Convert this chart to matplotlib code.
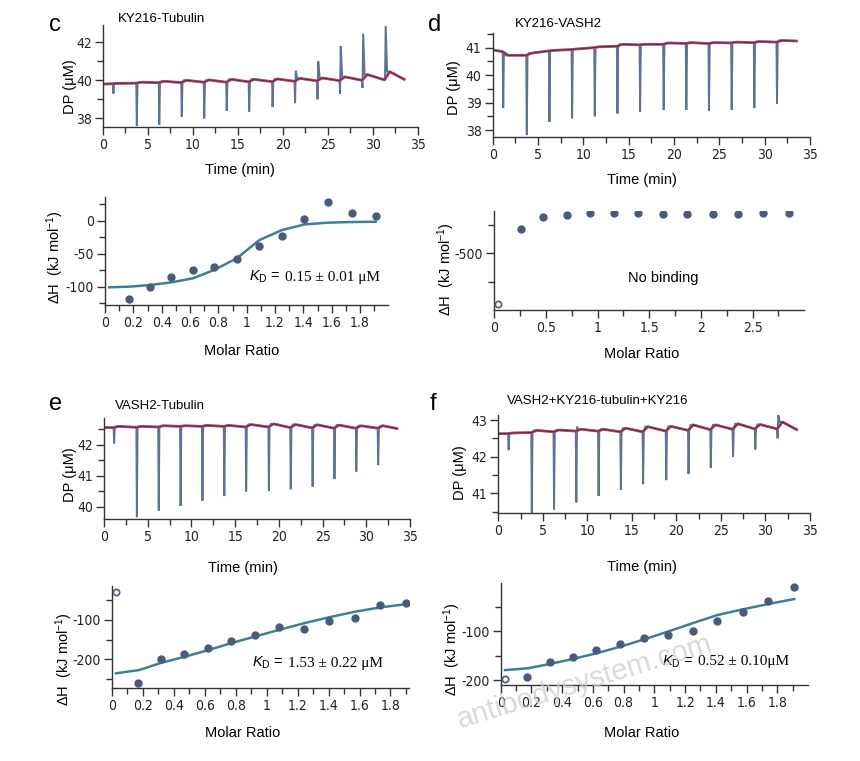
import os
import matplotlib
matplotlib.use('Agg')
import matplotlib.pyplot as plt
import numpy as np
from matplotlib import font_manager
from matplotlib.font_manager import FontProperties
from matplotlib.ticker import FixedLocator, FuncFormatter

W, H = 860, 761

# injection times shared by all four runs (min)
inj_t = [1.1, 3.7, 6.2, 8.7, 11.2, 13.7, 16.2, 18.8, 21.3, 23.8, 26.3, 28.8, 31.3]

# --- c: KY216-Tubulin ---
c_start, c_end = 39.80, 40.05
c_base = [39.82, 39.85, 39.87, 39.88, 39.90, 39.90, 39.92, 39.93, 39.95, 39.97, 39.98, 40.00, 40.02]
c_bump = [39.84, 39.90, 39.95, 40.00, 40.02, 40.05, 40.05, 40.07, 40.10, 40.12, 40.18, 40.30, 40.45]
c_down = [39.30, 37.60, 37.67, 38.10, 38.00, 38.40, 38.36, 38.60, 38.80, 39.00, 39.30, 39.60, 40.00]
c_up = [39.82, 39.85, 39.87, 39.88, 39.90, 39.90, 39.92, 39.93, 40.50, 41.00, 41.80, 42.45, 42.85]
c_ratio = [0.172, 0.318, 0.466, 0.619, 0.772, 0.929, 1.087, 1.247, 1.407, 1.572, 1.741, 1.911]
c_dh = [-118.7, -100.0, -85.9, -74.7, -70.7, -57.6, -38.4, -22.7, 2.0, 28.8, 12.1, 7.1]
c_fit_x = [0.03, 0.17, 0.32, 0.47, 0.62, 0.77, 0.93, 1.09, 1.25, 1.41, 1.57, 1.74, 1.91]
c_fit_y = [-101.0, -100.0, -97.5, -93.4, -87.4, -74.7, -57.0, -29.3, -14.1, -5.6, -3.0, -2.0, -1.5]

# --- d: KY216-VASH2 ---
d_start, d_end = 40.92, 41.24
d_base = [40.85, 40.72, 40.88, 40.93, 41.00, 41.05, 41.10, 41.12, 41.15, 41.15, 41.17, 41.18, 41.20]
d_bump = [40.72, 40.80, 40.90, 40.95, 41.03, 41.12, 41.12, 41.17, 41.18, 41.18, 41.20, 41.22, 41.26]
d_down = [38.80, 37.82, 38.30, 38.43, 38.50, 38.60, 38.67, 38.73, 38.73, 38.70, 38.73, 38.80, 38.95]
d_ratio = [0.039, 0.255, 0.474, 0.700, 0.926, 1.158, 1.394, 1.629, 1.868, 2.113, 2.361, 2.603, 2.855]
d_dh = [-947, -285, -182, -165, -147, -147, -147, -153, -153, -153, -153, -147, -141]

# --- e: VASH2-Tubulin ---
e_start, e_end = 42.56, 42.53
e_base = [42.56, 42.57, 42.58, 42.60, 42.60, 42.60, 42.58, 42.58, 42.56, 42.55, 42.54, 42.54, 42.54]
e_bump = [42.60, 42.60, 42.62, 42.62, 42.63, 42.63, 42.66, 42.68, 42.66, 42.65, 42.64, 42.62, 42.62]
e_down = [42.05, 39.67, 39.88, 40.03, 40.20, 40.35, 40.50, 40.52, 40.57, 40.66, 40.90, 41.14, 41.35]
e_ratio = [0.026, 0.170, 0.317, 0.466, 0.619, 0.769, 0.925, 1.082, 1.244, 1.405, 1.571, 1.733, 1.900]
e_dh = [-28.0, -259.0, -200.0, -187.0, -170.0, -152.5, -139.0, -118.6, -123.7, -101.7, -95.8, -61.9, -56.0]
e_fit_x = [0.026, 0.18, 0.317, 0.466, 0.619, 0.769, 0.925, 1.082, 1.244, 1.405, 1.571, 1.733, 1.90]
e_fit_y = [-235.6, -227.0, -209.0, -194.0, -177.0, -159.0, -142.0, -125.0, -108.0, -93.0, -79.0, -68.0, -60.0]

# --- f: VASH2+KY216-tubulin+KY216 ---
f_start, f_end = 42.63, 42.74
f_base = [42.63, 42.66, 42.68, 42.70, 42.70, 42.68, 42.68, 42.70, 42.72, 42.74, 42.75, 42.76, 42.76]
f_bump = [42.65, 42.72, 42.73, 42.75, 42.75, 42.78, 42.82, 42.83, 42.87, 42.87, 42.90, 42.88, 42.95]
f_down = [42.18, 40.47, 40.56, 40.75, 40.93, 41.10, 41.25, 41.36, 41.53, 41.70, 42.00, 42.20, 42.50]
f_up = [42.63, 42.66, 42.68, 42.82, 42.70, 42.68, 42.68, 42.70, 42.72, 42.74, 42.75, 42.76, 43.14]
f_ratio = [0.028, 0.174, 0.321, 0.469, 0.620, 0.777, 0.933, 1.089, 1.249, 1.410, 1.575, 1.740, 1.911]
f_dh = [-198.0, -193.0, -164.0, -152.0, -139.0, -126.5, -115.0, -107.5, -99.3, -79.0, -62.0, -38.0, -11.0]
f_fit_x = [0.028, 0.174, 0.321, 0.469, 0.62, 0.777, 0.933, 1.089, 1.249, 1.41, 1.575, 1.74, 1.911]
f_fit_y = [-179.6, -176.0, -167.0, -157.0, -145.6, -132.0, -117.0, -101.0, -84.0, -67.3, -55.8, -44.9, -34.7]

TRACE = '#5d7391'
BASE = '#b04a74'
FIT = '#3c7f97'
DOT = '#4b5a79'
AX = '#333333'

plt.rcParams['font.family'] = ['Liberation Sans', 'DejaVu Sans']
plt.rcParams['mathtext.fontset'] = 'custom'
plt.rcParams['mathtext.rm'] = 'Liberation Sans'
plt.rcParams['mathtext.it'] = 'Liberation Sans:italic'


# the tick numbers in the reference are set in a narrow face; use one if present
def narrow_font():
    found = []
    for f in font_manager.fontManager.ttflist:
        base = os.path.basename(f.fname)
        tag = f.name + ' ' + base
        if ('Narrow' in tag or 'Condensed' in tag or f.stretch in ('condensed', 'semi-condensed')) \
                and 'Bold' not in base and 'Italic' not in base and 'Oblique' not in base \
                and f.style == 'normal':
            found.append(f)
    found.sort(key=lambda f: (0 if 'Liberation' in f.name else 1 if 'DejaVu' in f.name else 2))
    if found:
        return FontProperties(fname=found[0].fname, size=10)
    return FontProperties(family='Liberation Sans', size=9)


TICK_FP = narrow_font()

fig = plt.figure(figsize=(W / 100, H / 100), dpi=100)


def px_axes(left, right, top, bottom):
    return fig.add_axes([left / W, 1 - bottom / H, (right - left) / W, (bottom - top) / H])


def ftext(x, y, s, **kw):
    return fig.text(x / W, 1 - y / H, s, **kw)


def style(ax, xmaj, xmin, ymaj, ymin):
    for side in ('top', 'right'):
        ax.spines[side].set_visible(False)
    for side in ('left', 'bottom'):
        ax.spines[side].set_color(AX)
        ax.spines[side].set_linewidth(1.0)
    ax.xaxis.set_major_locator(FixedLocator(xmaj))
    ax.xaxis.set_minor_locator(FixedLocator(xmin))
    ax.yaxis.set_major_locator(FixedLocator(ymaj))
    ax.yaxis.set_minor_locator(FixedLocator(ymin))
    fmt = FuncFormatter(lambda v, p: '%g' % v)
    ax.xaxis.set_major_formatter(fmt)
    ax.yaxis.set_major_formatter(fmt)
    ax.tick_params(which='major', direction='out', length=6, width=1, color=AX, pad=2)
    ax.tick_params(which='minor', direction='out', length=4, width=1, color=AX)
    for lab in ax.get_xticklabels() + ax.get_yticklabels():
        lab.set_fontproperties(TICK_FP)
        lab.set_color('#222222')
    ax.patch.set_alpha(0)


def thermogram(ax, start, end, base, bump, down, up=None):
    if up is None:
        up = base
    tx, ty = [0.0], [start]
    bx, by = [0.0], [start]
    for t, b0, b1, lo, hi in zip(inj_t, base, bump, down, up):
        tx += [t, t + 0.06, t + 0.14, t + 0.3, t + 0.6]
        ty += [b0, lo, hi, b1, b1]
        bx += [t, t + 0.6]
        by += [b0, b1]
    tx.append(33.5)
    ty.append(end)
    bx.append(33.5)
    by.append(end)
    ax.plot(tx, ty, color=TRACE, lw=1.4, solid_joinstyle='miter')
    ax.plot(bx, by, color=BASE, lw=2.0, solid_joinstyle='round')
    ax.plot(bx, by, color='#5a2a40', lw=0.7, solid_joinstyle='round')


def isotherm(ax, ratio, dh, fit_x=None, fit_y=None, open_first=False):
    if fit_x is not None:
        ax.plot(fit_x, fit_y, color=FIT, lw=1.8, zorder=2)
    start = 1 if open_first else 0
    ax.plot(ratio[start:], dh[start:], 'o', ms=5, color=DOT, mec=DOT, zorder=3)
    if open_first:
        ax.plot(ratio[:1], dh[:1], 'o', ms=4.5, mfc='white', mec=DOT, mew=1.2, zorder=3)


def kd(x, y, val, gap=36):
    ftext(x, y, '$K_\\mathrm{D}$ =', fontsize=10.5, va='center', ha='left')
    ftext(x + gap, y, val, fontsize=11, va='center', ha='left', family='Liberation Serif')


DP_LABEL = 'DP (\u03bcM)'
DH_LABEL = '\u0394H  (kJ mol$^{-1}$)'
LAB = 10.5

# ---------------- c ----------------
ax = px_axes(103, 417.7, 25, 127)
thermogram(ax, c_start, c_end, c_base, c_bump, c_down, c_up)
ax.set_xlim(0, 35)
ax.set_ylim(37.55, 42.9)
style(ax, np.arange(0, 36, 5), np.arange(2.5, 35, 5), [38, 40, 42], [39, 41])

ax = px_axes(105, 388.4, 196.7, 305)
isotherm(ax, c_ratio, c_dh, c_fit_x, c_fit_y)
ax.set_xlim(0, 2.0)
ax.set_ylim(-127.8, 36.4)
style(ax, np.arange(0, 1.85, 0.2), np.arange(0.1, 2.0, 0.2), [-100, -50, 0], [-125, -75, -25, 25])

ftext(55, 25, 'c', fontsize=17, ha='center', va='center')
ftext(118, 19, 'KY216-Tubulin', fontsize=9.5, va='center')
ftext(70, 87, DP_LABEL, fontsize=LAB, rotation=90, ha='center', va='center')
ftext(240, 170, 'Time (min)', fontsize=LAB, ha='center', va='center')
ftext(55, 257, DH_LABEL, fontsize=LAB, rotation=90, ha='center', va='center')
ftext(242, 351, 'Molar Ratio', fontsize=LAB, ha='center', va='center')
kd(249, 277, '0.15 \u00b1 0.01 \u03bcM')

# ---------------- d ----------------
ax = px_axes(492.7, 810, 33.3, 136.7)
thermogram(ax, d_start, d_end, d_base, d_bump, d_down)
ax.set_xlim(0, 35)
ax.set_ylim(37.76, 41.52)
style(ax, np.arange(0, 36, 5), np.arange(2.5, 35, 5), [38, 39, 40, 41], [38.5, 39.5, 40.5, 41.5])

ax = px_axes(494.3, 804.3, 210.7, 310)
isotherm(ax, d_ratio, d_dh, open_first=True)
ax.set_xlim(0, 3.0)
ax.set_ylim(-1000, -123)
style(ax, np.arange(0, 2.6, 0.5), np.arange(0.25, 3.0, 0.25), [-500], [-750, -250])

ftext(435, 25, 'd', fontsize=17, ha='center', va='center')
ftext(515, 24, 'KY216-VASH2', fontsize=9.5, va='center')
ftext(454, 88, DP_LABEL, fontsize=LAB, rotation=90, ha='center', va='center')
ftext(642, 180, 'Time (min)', fontsize=LAB, ha='center', va='center')
ftext(446, 269, DH_LABEL, fontsize=LAB, rotation=90, ha='center', va='center')
ftext(642, 354, 'Molar Ratio', fontsize=LAB, ha='center', va='center')
ftext(663, 278, 'No binding', fontsize=LAB, ha='center', va='center')

# ---------------- e ----------------
ax = px_axes(104, 410, 418.3, 519.3)
thermogram(ax, e_start, e_end, e_base, e_bump, e_down)
ax.set_xlim(0, 35)
ax.set_ylim(39.6, 42.86)
style(ax, np.arange(0, 36, 5), np.arange(2.5, 35, 5), [40, 41, 42], [40.5, 41.5, 42.5])

ax = px_axes(112, 409, 586, 688.3)
isotherm(ax, e_ratio, e_dh, e_fit_x, e_fit_y, open_first=True)
ax.set_xlim(0, 1.92)
ax.set_ylim(-273.7, -13.6)
style(ax, np.arange(0, 1.85, 0.2), np.arange(0.1, 2.0, 0.2), [-200, -100], [-250, -150, -50])

ftext(56, 404, 'e', fontsize=17, ha='center', va='center')
ftext(115, 406, 'VASH2-Tubulin', fontsize=9.5, va='center')
ftext(70, 475, DP_LABEL, fontsize=LAB, rotation=90, ha='center', va='center')
ftext(243, 568, 'Time (min)', fontsize=LAB, ha='center', va='center')
ftext(64, 659, DH_LABEL, fontsize=LAB, rotation=90, ha='center', va='center')
ftext(243, 733, 'Molar Ratio', fontsize=LAB, ha='center', va='center')
kd(252, 663, '1.53 \u00b1 0.22 \u03bcM')

# ---------------- f ----------------
ax = px_axes(498.3, 810, 415, 512.7)
thermogram(ax, f_start, f_end, f_base, f_bump, f_down, f_up)
ax.set_xlim(0, 35)
ax.set_ylim(40.47, 43.14)
style(ax, np.arange(0, 36, 5), np.arange(2.5, 35, 5), [41, 42, 43], [40.5, 41.5, 42.5])

ax = px_axes(500.7, 808, 582.7, 685)
isotherm(ax, f_ratio, f_dh, f_fit_x, f_fit_y, open_first=True)
ax.set_xlim(0, 2.0)
ax.set_ylim(-210, -1.4)
style(ax, np.arange(0, 1.85, 0.2), np.arange(0.1, 2.0, 0.2), [-200, -100], [-150, -50])

ftext(433, 404, 'f', fontsize=17, ha='center', va='center')
ftext(507, 401, 'VASH2+KY216-tubulin+KY216', fontsize=9.5, va='center')
ftext(460, 473, DP_LABEL, fontsize=LAB, rotation=90, ha='center', va='center')
ftext(642, 567, 'Time (min)', fontsize=LAB, ha='center', va='center')
ftext(452, 649, DH_LABEL, fontsize=LAB, rotation=90, ha='center', va='center')
ftext(642, 733, 'Molar Ratio', fontsize=LAB, ha='center', va='center')
kd(662, 662, '0.52 \u00b1 0.10\u03bcM')

ftext(585, 682, 'antibodysystem.com', fontsize=21, rotation=17, ha='center', va='center',
      color='#cccccc', alpha=0.75)

fig.savefig('out.png', dpi=100)
